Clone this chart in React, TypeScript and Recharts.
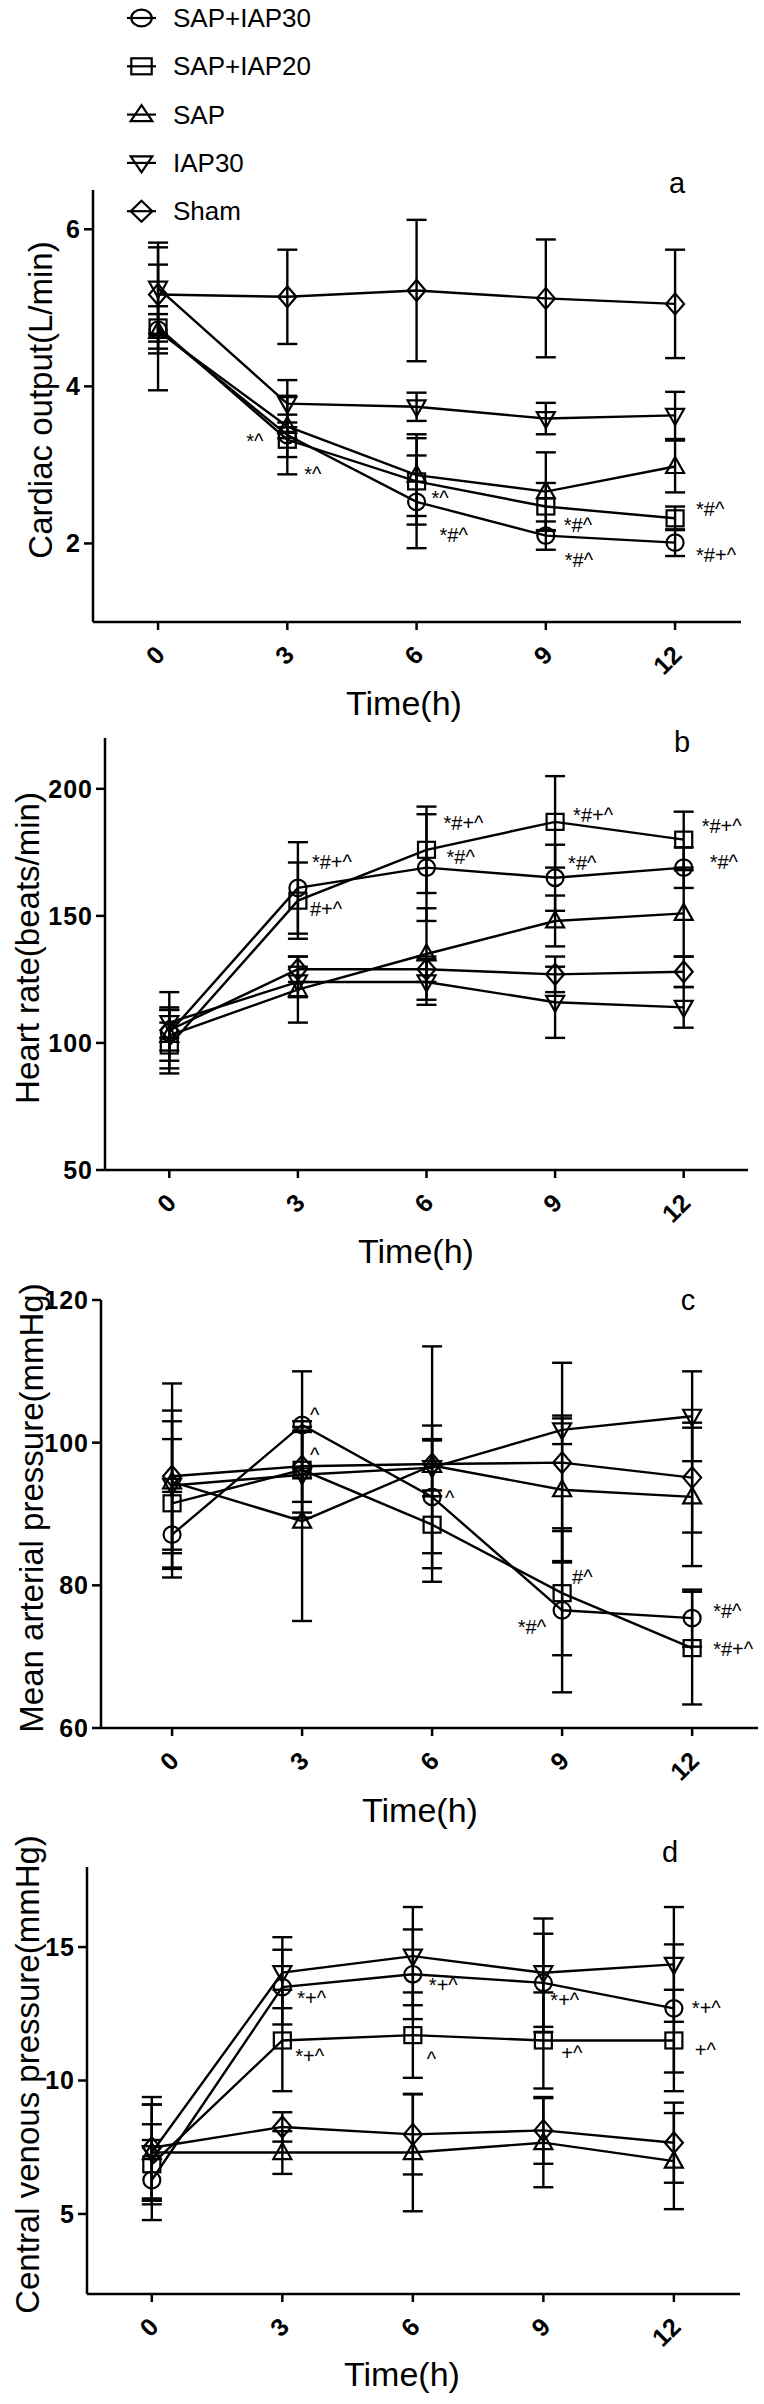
import React from 'react';
import { ComposedChart, Line, Scatter, XAxis, YAxis, ErrorBar } from 'recharts';

const times = [0, 3, 6, 9, 12];
const xTicks = [0, 3, 6, 9, 12];
const groupNames = ['SAP+IAP30', 'SAP+IAP20', 'SAP', 'IAP30', 'Sham'];
const groupKeys = ['sap30', 'sap20', 'sap', 'iap30', 'sham'];
const groupShapes = ['circle', 'square', 'triangle', 'triangleDown', 'diamond'];

// a - cardiac output (L/min), mean and SD
const coTicks = [2, 4, 6];
const coSap30 = [4.72, 3.38, 2.53, 2.1, 2.01];
const coSap30Sd = [0.3, 0.5, 0.59, 0.18, 0.17];
const coSap20 = [4.75, 3.32, 2.79, 2.47, 2.32];
const coSap20Sd = [0.8, 0.22, 0.55, 0.3, 0.15];
const coSap = [4.7, 3.49, 2.87, 2.66, 2.98];
const coSapSd = [0.22, 0.15, 0.52, 0.5, 0.33];
const coIap30 = [5.25, 3.78, 3.74, 3.59, 3.63];
const coIap30Sd = [0.58, 0.3, 0.18, 0.2, 0.3];
const coSham = [5.17, 5.14, 5.22, 5.12, 5.05];
const coShamSd = [0.6, 0.6, 0.9, 0.75, 0.69];
const coNotes = [
  { key: 'sap20', t: 3, text: '*^' },
  { key: 'sap30', t: 3, text: '*^' },
  { key: 'sap30', t: 6, text: '*^' },
  { key: 'sap30', t: 6, text: '*#^' },
  { key: 'sap20', t: 9, text: '*#^' },
  { key: 'sap30', t: 9, text: '*#^' },
  { key: 'sap20', t: 12, text: '*#^' },
  { key: 'sap30', t: 12, text: '*#+^' },
];

// b - heart rate (beats/min)
const hrTicks = [50, 100, 150, 200];
const hrSap30 = [104, 161, 169, 165, 169];
const hrSap30Sd = [16, 18, 21, 13, 8];
const hrSap20 = [99, 156, 176, 187, 180];
const hrSap20Sd = [9, 15, 17, 18, 11];
const hrSap = [103, 121, 135, 148, 151];
const hrSapSd = [10, 13, 18, 10, 17];
const hrIap30 = [108, 124, 124, 116, 114];
const hrIap30Sd = [6, 6, 9, 14, 8];
const hrSham = [105, 129, 129, 127, 128];
const hrShamSd = [8, 5, 5, 7, 6];
const hrNotes = [
  { key: 'sap30', t: 3, text: '*#+^' },
  { key: 'sap20', t: 3, text: '#+^' },
  { key: 'sap20', t: 6, text: '*#+^' },
  { key: 'sap30', t: 6, text: '*#^' },
  { key: 'sap20', t: 9, text: '*#+^' },
  { key: 'sap30', t: 9, text: '*#^' },
  { key: 'sap20', t: 12, text: '*#+^' },
  { key: 'sap30', t: 12, text: '*#^' },
];

// c - mean arterial pressure (mmHg)
const mapTicks = [60, 80, 100, 120];
const mapSap30 = [87.1, 102.5, 92.4, 76.5, 75.4];
const mapSap30Sd = [6, 7.5, 10, 11.5, 4];
const mapSap20 = [91.5, 96.2, 88.5, 78.9, 71.2];
const mapSap20Sd = [9, 6, 4, 8.7, 7.9];
const mapSap = [94.5, 89, 96.8, 93.4, 92.4];
const mapSapSd = [10, 14, 3.5, 10, 9.7];
const mapIap30 = [94, 95.5, 96.5, 101.8, 103.7];
const mapIap30Sd = [9, 6, 4, 2, 6.3];
const mapSham = [95.3, 96.7, 97, 97.2, 95.1];
const mapShamSd = [13, 5, 16.5, 14, 7.7];
const mapNotes = [
  { key: 'sap30', t: 3, text: '^' },
  { key: 'sap20', t: 3, text: '^' },
  { key: 'sap30', t: 6, text: '^' },
  { key: 'sap20', t: 9, text: '#^' },
  { key: 'sap30', t: 9, text: '*#^' },
  { key: 'sap30', t: 12, text: '*#^' },
  { key: 'sap20', t: 12, text: '*#+^' },
];

// d - central venous pressure (mmHg)
const cvpTicks = [5, 10, 15];
const cvpSap30 = [6.27, 13.5, 13.98, 13.66, 12.7];
const cvpSap30Sd = [1.5, 1.4, 1.68, 1.84, 2.4];
const cvpSap20 = [6.86, 11.5, 11.7, 11.5, 11.5];
const cvpSap20Sd = [1.5, 1.9, 1.6, 1.8, 1.9];
const cvpSap = [7.3, 7.3, 7.3, 7.67, 6.98];
const cvpSapSd = [1.8, 0.8, 2.2, 1.67, 1.8];
const cvpIap30 = [7.3, 14.04, 14.66, 14.04, 14.35];
const cvpIap30Sd = [1.8, 1.33, 1.84, 2.03, 2.15];
const cvpSham = [7.48, 8.26, 7.98, 8.13, 7.67];
const cvpShamSd = [1.9, 0.55, 1.5, 1.25, 1.5];
const cvpNotes = [
  { key: 'sap30', t: 3, text: '*+^' },
  { key: 'sap20', t: 3, text: '*+^' },
  { key: 'sap30', t: 6, text: '*+^' },
  { key: 'sap20', t: 6, text: '^' },
  { key: 'sap30', t: 9, text: '*+^' },
  { key: 'sap20', t: 9, text: '+^' },
  { key: 'sap30', t: 12, text: '*+^' },
  { key: 'sap20', t: 12, text: '+^' },
];

// where each note sits relative to its point: [dx, dy, anchor]
const coNoteOffsets: any[] = [[-24, 8, 'end'], [17, 46], [15, 3], [23, 40], [18, 25], [19, 31], [21, -2], [21, 19]];
const hrNoteOffsets: any[] = [[14, -19], [12, 15], [17, -20], [20, -4], [18, 0], [13, -8], [18, -7], [26, 1]];
const mapNoteOffsets: any[] = [[8, -3], [8, -8], [13, 8], [10, -9], [-16, 24, 'end'], [21, 0], [21, 8]];
const cvpNoteOffsets: any[] = [[15, 18], [13, 23], [16, 18], [14, 31], [7, 24], [18, 20], [18, 7], [21, 17]];

const FONT = '"Liberation Sans", Arial, sans-serif';

function buildRows(series: number[][], sds: number[][]) {
  return times.map((t, i) => {
    const row: any = { t };
    groupKeys.forEach((k, j) => {
      row[k] = series[j][i];
      row[k + 'Sd'] = sds[j][i];
    });
    return row;
  });
}

function buildNotes(notes: any[], series: number[][]) {
  return notes.map((n, i) => ({
    t: n.t,
    v: series[groupKeys.indexOf(n.key)][times.indexOf(n.t)],
    text: n.text,
    n: i,
  }));
}

function Marker({ shape, cx, cy, sx = 1 }: any) {
  const common = { stroke: '#000', strokeWidth: 2.2, fill: 'none' };
  if (shape === 'circle') return <ellipse cx={cx} cy={cy} rx={8.5 * sx} ry={8.3} {...common} />;
  if (shape === 'square') return <rect x={cx - 8.5 * sx} y={cy - 8} width={17 * sx} height={16} {...common} />;
  if (shape === 'triangle')
    return <polygon points={`${cx},${cy - 9.5} ${cx + 9 * sx},${cy + 6.5} ${cx - 9 * sx},${cy + 6.5}`} {...common} />;
  if (shape === 'triangleDown')
    return <polygon points={`${cx},${cy + 9.5} ${cx + 9 * sx},${cy - 6.5} ${cx - 9 * sx},${cy - 6.5}`} {...common} />;
  return <polygon points={`${cx},${cy - 10.5} ${cx + 9 * sx},${cy} ${cx},${cy + 10.5} ${cx - 9 * sx},${cy}`} {...common} />;
}

const dotFor = (shape: string) => (p: any) =>
  p.cx == null ? <g key={`${shape}-${p.index}`} /> : <Marker key={`${shape}-${p.index}`} shape={shape} cx={p.cx} cy={p.cy} />;

const TimeTick = (p: any) => (
  <text
    transform={`translate(${p.x + 2},${p.y + 20}) rotate(-45)`}
    textAnchor="end"
    dominantBaseline="central"
    fontSize={25}
    fontWeight={700}
    fill="#000"
  >
    {p.payload.value}
  </text>
);

function Panel({ layout, rows, notes, offsets, yDomain, yTicks, yTitle, letter }: any) {
  const h = layout.bottom - layout.top;
  const plotMidY = (layout.plotTop + layout.plotBottom) / 2 - layout.top - 6;
  const drawOrder = [4, 3, 2, 1, 0];
  return (
    <div style={{ position: 'absolute', left: 0, top: layout.top, width: 764, height: h }}>
      <ComposedChart
        width={764}
        height={h}
        data={rows}
        margin={{ top: layout.plotTop - layout.top, right: 764 - layout.axisEnd, bottom: 0, left: 0 }}
      >
        <XAxis
          dataKey="t"
          type="number"
          domain={layout.xDomain}
          ticks={xTicks}
          interval={0}
          allowDataOverflow
          height={layout.bottom - layout.plotBottom}
          stroke="#000"
          strokeWidth={2.5}
          tickSize={8}
          tickMargin={0}
          tick={<TimeTick />}
        />
        <YAxis
          type="number"
          domain={yDomain}
          ticks={yTicks}
          interval={0}
          allowDataOverflow
          width={layout.axisX}
          stroke="#000"
          strokeWidth={2.5}
          tickSize={9}
          tickMargin={3}
          tick={{ fill: '#000', fontSize: 25, fontWeight: 700, letterSpacing: 1 }}
        />
        {drawOrder.map(j => (
          <Line
            key={groupKeys[j]}
            type="linear"
            dataKey={groupKeys[j]}
            stroke="#000"
            strokeWidth={2.4}
            dot={dotFor(groupShapes[j])}
            activeDot={false}
            isAnimationActive={false}
          >
            <ErrorBar dataKey={groupKeys[j] + 'Sd'} width={10} strokeWidth={2.4} stroke="#000" direction="y" />
          </Line>
        ))}
        <Scatter
          data={notes}
          dataKey="v"
          isAnimationActive={false}
          shape={(p: any) => {
            const off = offsets[p.payload.n] || [0, 0];
            return (
              <text
                x={p.cx + off[0]}
                y={p.cy + off[1]}
                textAnchor={off[2] || 'start'}
                fontSize={20}
                fill="#000"
              >
                {p.payload.text}
              </text>
            );
          }}
        />
      </ComposedChart>
      <svg
        width={764}
        height={h}
        style={{ position: 'absolute', left: 0, top: 0, pointerEvents: 'none', overflow: 'visible' }}
      >
        <text
          transform={`translate(${layout.titleX},${plotMidY}) rotate(-90)`}
          textAnchor="middle"
          dominantBaseline="central"
          fontSize={33}
          fill="#000"
        >
          {yTitle}
        </text>
        <text x={layout.timeX} y={layout.plotBottom - layout.top + layout.timeDy} textAnchor="middle" dominantBaseline="central" fontSize={34} fill="#000">
          Time(h)
        </text>
        <text x={layout.letterX} y={layout.letterY - layout.top} textAnchor="middle" dominantBaseline="central" fontSize={29} fill="#000">
          {letter}
        </text>
      </svg>
    </div>
  );
}

function GroupLegend() {
  return (
    <svg width={340} height={235} style={{ position: 'absolute', left: 0, top: 0 }}>
      {groupNames.map((name, i) => {
        const y = 18 + i * 48.3;
        return (
          <g key={name}>
            <Marker shape={groupShapes[i]} cx={141.5} cy={y} sx={1.2} />
            <line x1={127} x2={156} y1={y} y2={y} stroke="#000" strokeWidth={2.2} />
            <text x={173} y={y} dominantBaseline="central" fontSize={26} fill="#000">
              {name}
            </text>
          </g>
        );
      })}
    </svg>
  );
}

const coSeries = [coSap30, coSap20, coSap, coIap30, coSham];
const hrSeries = [hrSap30, hrSap20, hrSap, hrIap30, hrSham];
const mapSeries = [mapSap30, mapSap20, mapSap, mapIap30, mapSham];
const cvpSeries = [cvpSap30, cvpSap20, cvpSap, cvpIap30, cvpSham];

const layouts = {
  a: { top: 0, bottom: 730, axisX: 93, axisEnd: 741, plotTop: 190, plotBottom: 622, xDomain: [-1.51, 13.53], titleX: 40, timeX: 404, timeDy: 81, letterX: 677, letterY: 183 },
  b: { top: 730, bottom: 1280, axisX: 105, axisEnd: 748, plotTop: 738, plotBottom: 1170, xDomain: [-1.5, 13.5], titleX: 27, timeX: 416, timeDy: 81, letterX: 682, letterY: 742 },
  c: { top: 1280, bottom: 1830, axisX: 101, axisEnd: 758, plotTop: 1300, plotBottom: 1728, xDomain: [-1.64, 13.52], titleX: 31, timeX: 420, timeDy: 82, letterX: 688, letterY: 1300 },
  d: { top: 1830, bottom: 2404, axisX: 87, axisEnd: 740, plotTop: 1867, plotBottom: 2294, xDomain: [-1.49, 13.52], titleX: 27, timeX: 402, timeDy: 80, letterX: 670, letterY: 1852 },
};

export default function App() {
  return (
    <div style={{ position: 'relative', width: 764, height: 2404, background: '#fff', fontFamily: FONT, overflow: 'hidden' }}>
      <style>{'body{margin:0}'}</style>
      <Panel
        layout={layouts.a}
        rows={buildRows(coSeries, [coSap30Sd, coSap20Sd, coSapSd, coIap30Sd, coShamSd])}
        notes={buildNotes(coNotes, coSeries)}
        offsets={coNoteOffsets}
        yDomain={[1, 6.5]}
        yTicks={coTicks}
        yTitle="Cardiac output(L/min)"
        letter="a"
      />
      <Panel
        layout={layouts.b}
        rows={buildRows(hrSeries, [hrSap30Sd, hrSap20Sd, hrSapSd, hrIap30Sd, hrShamSd])}
        notes={buildNotes(hrNotes, hrSeries)}
        offsets={hrNoteOffsets}
        yDomain={[50, 220]}
        yTicks={hrTicks}
        yTitle="Heart rate(beats/min)"
        letter="b"
      />
      <Panel
        layout={layouts.c}
        rows={buildRows(mapSeries, [mapSap30Sd, mapSap20Sd, mapSapSd, mapIap30Sd, mapShamSd])}
        notes={buildNotes(mapNotes, mapSeries)}
        offsets={mapNoteOffsets}
        yDomain={[60, 120]}
        yTicks={mapTicks}
        yTitle="Mean arterial pressure(mmHg)"
        letter="c"
      />
      <Panel
        layout={layouts.d}
        rows={buildRows(cvpSeries, [cvpSap30Sd, cvpSap20Sd, cvpSapSd, cvpIap30Sd, cvpShamSd])}
        notes={buildNotes(cvpNotes, cvpSeries)}
        offsets={cvpNoteOffsets}
        yDomain={[2, 18]}
        yTicks={cvpTicks}
        yTitle="Central venous pressure(mmHg)"
        letter="d"
      />
      <GroupLegend />
    </div>
  );
}
